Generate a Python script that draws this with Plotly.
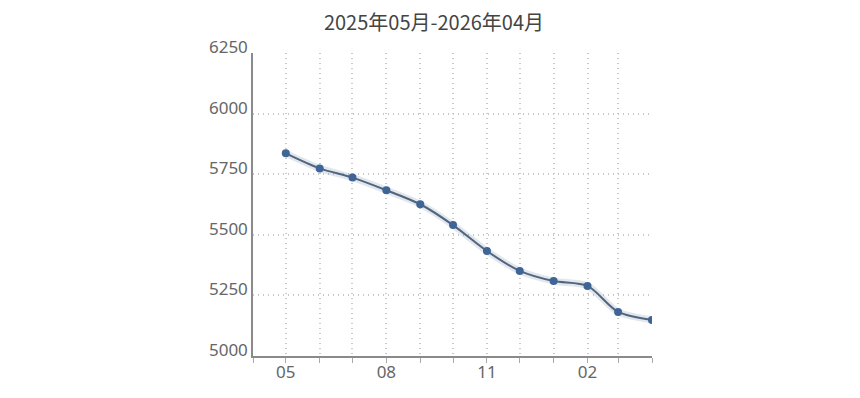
import plotly.graph_objects as go

months = ["2025-05-01", "2025-06-01", "2025-07-01", "2025-08-01", "2025-09-01", "2025-10-01",
          "2025-11-01", "2025-12-01", "2026-01-01", "2026-02-01", "2026-03-01", "2026-04-01"]
prices = [5836, 5774, 5736, 5684, 5626, 5540, 5433, 5351, 5309, 5289, 5182, 5149]

tick_dates = ["2025-04-01", "2025-05-01", "2025-06-01", "2025-07-01", "2025-08-01", "2025-09-01",
              "2025-10-01", "2025-11-01", "2025-12-01", "2026-01-01", "2026-02-01", "2026-03-01",
              "2026-04-01"]
tick_text = ["", "05", "", "", "08", "", "", "11", "", "", "02", "", ""]
title_text = "2025年05月-2026年04月"

fig = go.Figure()
# soft shadow under the line
fig.add_trace(go.Scatter(x=months, y=prices, mode="lines",
                         line=dict(color="rgba(74,106,150,0.16)", width=7, shape="spline", smoothing=0.8),
                         hoverinfo="skip", showlegend=False))
fig.add_trace(go.Scatter(x=months, y=prices, mode="lines+markers",
                         line=dict(color="#52657f", width=2, shape="spline", smoothing=0.8),
                         marker=dict(color="#3f6597", size=8),
                         showlegend=False))

fig.update_layout(
    width=852, height=390,
    margin=dict(l=245, r=208, t=45, b=42),
    paper_bgcolor="white", plot_bgcolor="white",
    title=dict(text=title_text, x=0.5, xanchor="center", y=0.962, yanchor="middle",
               font=dict(family="Noto Sans CJK SC", size=20, color="#444")),
    font=dict(family="Noto Sans", color="#666"),
    xaxis=dict(type="date", range=["2025-04-01", "2026-04-01"], automargin=False,
               tickmode="array", tickvals=tick_dates, ticktext=tick_text,
               showgrid=True, gridcolor="#c8c8c8", griddash="1px,4px", gridwidth=1.5,
               showline=True, linecolor="#8a8a8a", linewidth=1.5,
               ticks="",
               minor=dict(ticks="outside", ticklen=5, tickcolor="#aaa", dtick="M1",
                          tick0="2025-04-01", showgrid=False),
               tickfont=dict(size=17, color="#666"), zeroline=False),
    yaxis=dict(range=[5000, 6250], dtick=250, tick0=5000, automargin=False,
               showgrid=True, gridcolor="#c8c8c8", griddash="1px,4px", gridwidth=1.5,
               showline=True, linecolor="#8a8a8a", linewidth=1.5,
               ticks="", ticklabelshift=-6, ticklabelstandoff=0,
               tickfont=dict(size=17, color="#666"), zeroline=False),
)

fig.write_html("out.html")
